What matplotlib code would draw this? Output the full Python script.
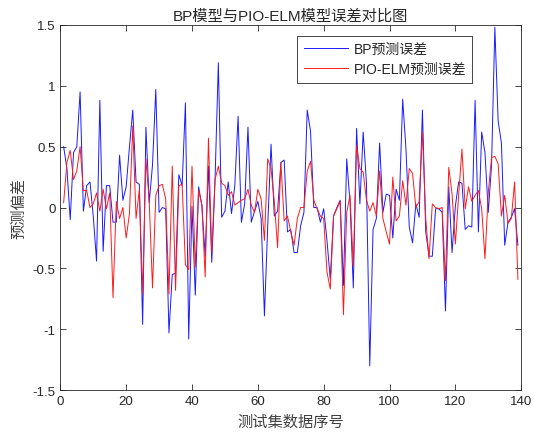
import numpy as np
import matplotlib
matplotlib.use("Agg")
import matplotlib.pyplot as plt

plt.rcParams['font.family'] = ['Liberation Sans', 'Noto Sans CJK SC', 'DejaVu Sans']

# ---------------------- 数据----------------------
bp_err = [
    0.50, 0.32, -0.10, 0.45, 0.50, 0.95, -0.03, 0.18, 0.21, -0.07,
    -0.44, 0.88, -0.36, 0.18, 0.18, -0.12, -0.12, 0.43, 0.06, 0.17,
    0.50, 0.80, 0.21, 0.19, -0.96, 0.66, 0.04, 0.35, 0.97, -0.04,
    0.00, -0.01, -1.03, -0.55, -0.54, 0.27, 0.18, 0.86, -1.08, 0.01,
    -0.72, 0.17, 0.02, -0.40, 0.34, -0.45, 0.23, 1.19, -0.08, -0.03,
    0.21, -0.05, 0.18, 0.75, -0.12, 0.03, 0.66, -0.12, -0.03, 0.05,
    -0.09, -0.89, -0.15, 0.52, -0.07, -0.03, 0.37, 0.39, -0.20, -0.18,
    -0.37, -0.37, -0.15, -0.04, 0.80, 0.63, 0.00, 0.00, -0.12, -0.01,
    -0.27, -0.59, -0.07, 0.00, 0.06, -0.64, 0.40, 0.04, -0.66, 0.65,
    0.03, 0.62, 0.20, -1.30, -0.18, -0.09, 0.53, -0.04, 0.11, 0.10,
    -0.25, 0.15, 0.06, 0.89, 0.48, -0.16, -0.29, 0.03, -0.08, 0.80,
    -0.20, -0.40, -0.40, -0.01, -0.01, -0.04, -0.85, 0.17, -0.37, 0.01,
    0.21, 0.20, -0.18, -0.15, -0.16, 0.88, -0.20, 0.62, 0.45, -0.04,
    0.35, 1.48, 0.71, 0.53, -0.31, -0.12, -0.08, -0.01, -0.31,
]
pio_elm_err = [
    0.04, 0.37, 0.47, 0.23, 0.30, 0.50, 0.14, 0.14, 0.00, 0.03,
    0.12, -0.03, 0.15, -0.01, 0.12, -0.74, 0.05, -0.09, 0.00, -0.25,
    -0.05, 0.67, -0.09, 0.15, -0.71, 0.40, 0.05, -0.66, 0.10, 0.18,
    0.19, 0.07, -0.71, 0.34, -0.68, 0.18, 0.19, -0.47, -0.51, 0.34,
    -0.49, 0.14, 0.02, -0.57, 0.57, -0.37, 0.23, 0.34, 0.20, 0.18,
    0.10, 0.13, 0.02, 0.04, 0.06, 0.07, 0.15, 0.02, -0.04, 0.15,
    0.07, -0.27, 0.40, 0.32, 0.05, -0.33, 0.37, -0.11, -0.07, -0.20,
    -0.31, -0.09, 0.00, 0.00, 0.30, 0.38, 0.06, -0.01, -0.07, -0.09,
    -0.53, -0.67, -0.07, -0.01, 0.05, -0.88, -0.04, 0.10, -0.48, 0.51,
    0.32, 0.29, 0.06, -0.03, 0.04, -0.07, 0.30, -0.09, -0.20, -0.30,
    0.25, -0.11, -0.07, 0.22, 0.02, 0.32, 0.28, 0.00, 0.05, 0.62,
    -0.09, -0.42, 0.03, 0.00, -0.01, 0.00, -0.60, 0.33, 0.11, -0.30,
    0.10, 0.48, -0.01, 0.17, 0.05, 0.10, 0.14, -0.01, -0.42, 0.12,
    0.41, 0.42, 0.36, -0.07, 0.10, -0.13, -0.09, 0.21, -0.59,
]
sample_idx = np.arange(1, len(bp_err) + 1)

x_ticks = [0, 20, 40, 60, 80, 100, 120, 140]
y_ticks = [-1.5, -1, -0.5, 0, 0.5, 1, 1.5]
y_tick_labels = ['-1.5', '-1', '-0.5', '0', '0.5', '1', '1.5']

# ---------------------- 绘图 ----------------------
fig = plt.figure(figsize=(5.34, 4.39), dpi=100)
ax = fig.add_axes([0.113, 0.109, 0.863, 0.832])

ax.plot(sample_idx, bp_err, color='#1a1aff', linewidth=0.7, label='BP预测误差')
ax.plot(sample_idx, pio_elm_err, color='#ff1a1a', linewidth=0.7, label='PIO-ELM预测误差')

ax.set_xlim(0, 140)
ax.set_ylim(-1.5, 1.5)
ax.set_xticks(x_ticks)
ax.set_yticks(y_ticks)
ax.set_yticklabels(y_tick_labels)
ax.tick_params(direction='in', top=True, right=True, length=4, width=0.6,
               colors='#262626', labelsize=9.5)
for sp in ax.spines.values():
    sp.set_color('#262626')
    sp.set_linewidth(0.6)

ax.set_title('BP模型与PIO-ELM模型误差对比图', fontsize=11, pad=4, color='#262626',
             family=['Liberation Sans', 'Noto Sans CJK SC'])
ax.set_xlabel('测试集数据序号', fontsize=11, family='Noto Sans CJK SC', color='#404040')
ax.set_ylabel('预测偏差', fontsize=11, family='Noto Sans CJK SC', color='#404040')

leg = ax.legend(loc='upper right', bbox_to_anchor=(0.894, 0.97), borderaxespad=0,
                fontsize=10, fancybox=False, framealpha=1, handlelength=3.2,
                borderpad=0.45, labelspacing=0.45, handletextpad=0.4)
leg.get_frame().set_edgecolor('#262626')
leg.get_frame().set_linewidth(0.6)
for t in leg.get_texts():
    t.set_color('#262626')

plt.savefig('out.png', dpi=100)
plt.close()
